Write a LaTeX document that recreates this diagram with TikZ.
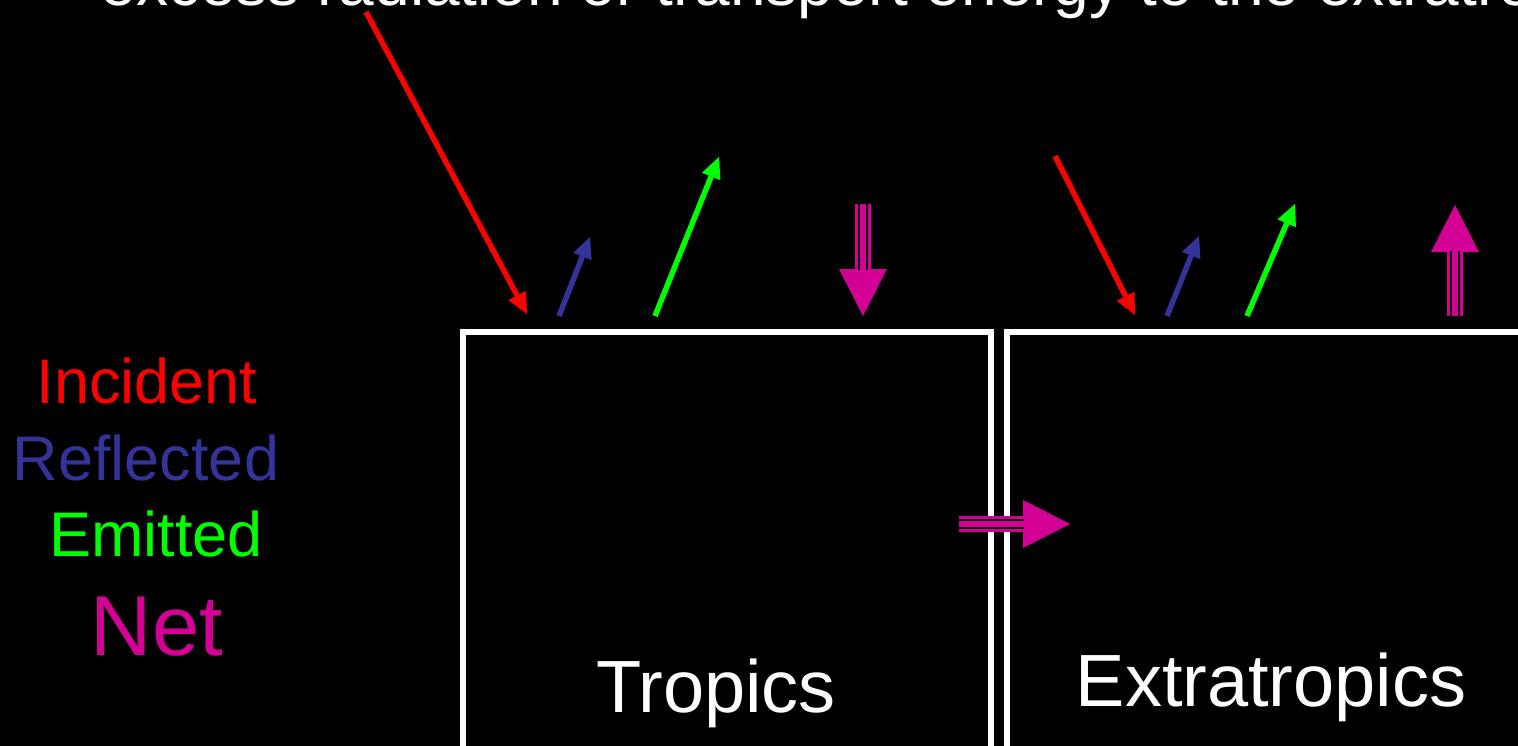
\documentclass[tikz,border=0pt]{standalone}
\usepackage{fontspec}
\setmainfont{Liberation Sans}
\usetikzlibrary{arrows.meta}
\definecolor{incid}{RGB}{255,0,0}
\definecolor{refl}{RGB}{51,51,153}
\definecolor{emit}{RGB}{0,255,0}
\definecolor{netc}{RGB}{212,0,150}
\begin{document}
\begin{tikzpicture}[x=1pt,y=-1pt,
 thinarrow/.style={line width=5.5pt,-{Triangle[length=21pt,width=20pt,line width=0pt]}},
 netouter/.style={draw=netc,line width=16pt,-{Triangle[length=47pt,width=48pt,line width=0pt]}},
 netgap/.style={draw=black,line width=10pt,shorten >=46pt},
 netinner/.style={draw=netc,line width=6pt,shorten >=46pt},
 regionbox/.style={draw=white,line width=6pt,inner sep=0pt,outer sep=0pt,anchor=north west},
 lbl/.style={anchor=base,inner sep=0pt},
]
\useasboundingbox (0,0) rectangle (1518,746);
\clip (0,0) rectangle (1518,746);
\fill[black] (0,0) rectangle (1518,746);

% title (cut off at the top)
\node[anchor=base west,inner sep=0pt,text=white,font=\fontsize{64}{70}\selectfont] (title) at (100.5,5.5) {excess radiation or transport energy to the extratropics};

% boxes
\node[regionbox,minimum width=528pt,minimum height=448pt] (trop) at (463,332) {};
\node[regionbox,minimum width=560pt,minimum height=448pt] (extra) at (1007,332) {};

% box labels
\node[lbl,text=white,font=\fontsize{74}{80}\selectfont] (troplbl) at (716,712) {Tropics};
\node[lbl,text=white,font=\fontsize{74}{80}\selectfont] (extlbl) at (1271,706) {Extratropics};

% legend
\node[lbl,text=incid,font=\fontsize{63}{70}\selectfont] (linc) at (147,403) {Incident};
\node[lbl,text=refl,font=\fontsize{63}{70}\selectfont] (lrefl) at (146,480) {Reflected};
\node[lbl,text=emit,font=\fontsize{63}{70}\selectfont] (lemit) at (156,556) {Emitted};
\node[lbl,text=netc,font=\fontsize{85}{90}\selectfont] (lnet) at (157,655) {Net};

% arrow end points: tropics
\coordinate (tr1) at (366,12);   \coordinate (tr2) at (527,314);
\coordinate (tb1) at (559,316);  \coordinate (tb2) at (590,237);
\coordinate (tg1) at (655,316);  \coordinate (tg2) at (719,157);
\coordinate (tn1) at (863,204);  \coordinate (tn2) at (863,316);
% extratropics
\coordinate (er1) at (1055,156); \coordinate (er2) at (1135,315);
\coordinate (eb1) at (1167,316); \coordinate (eb2) at (1199,236);
\coordinate (eg1) at (1247,316); \coordinate (eg2) at (1295,204);
\coordinate (en1) at (1455,316); \coordinate (en2) at (1455,205);
% transport
\coordinate (h1) at (959,524);   \coordinate (h2) at (1070,524);

\draw[thinarrow,incid] (tr1) -- (tr2);
\draw[thinarrow,refl] (tb1) -- (tb2);
\draw[thinarrow,emit] (tg1) -- (tg2);
\draw[thinarrow,incid] (er1) -- (er2);
\draw[thinarrow,refl] (eb1) -- (eb2);
\draw[thinarrow,emit] (eg1) -- (eg2);

\foreach \a/\b in {tn1/tn2,en1/en2,h1/h2}{
  \draw[netouter] (\a) -- (\b);
  \draw[netgap] (\a) -- (\b);
  \draw[netinner] (\a) -- (\b);
}
\end{tikzpicture}
\end{document}
